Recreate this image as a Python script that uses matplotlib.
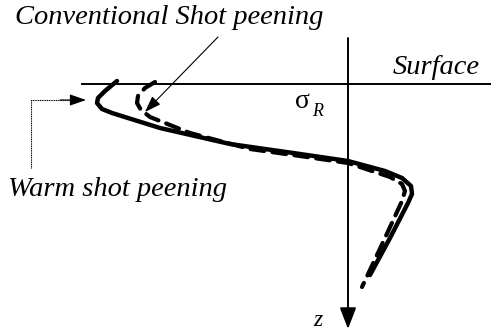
import matplotlib
matplotlib.use("Agg")
import matplotlib.pyplot as plt

# Schematic residual-stress profiles (in figure pixel coordinates)
warm_x = [117, 105, 98, 97, 102, 112, 160, 230, 300, 348, 385, 402, 411, 412, 408, 390, 370]
warm_z = [81, 91, 98, 103, 109, 113, 128, 144, 154, 161, 171, 178, 186, 194, 203, 238, 275]
conv_x = [155, 145, 138, 137, 141, 150, 190, 250, 300, 348, 390, 402, 405, 402, 385, 362]
conv_z = [82, 88, 96, 103, 110, 117, 133, 149, 156, 163, 177, 184, 191, 201, 238, 287]

label_conv = "Conventional Shot peening"
label_warm = "Warm shot peening"
label_surface = "Surface"

W, H = 491, 334
fig = plt.figure(figsize=(W / 100, H / 100), dpi=100)
ax = fig.add_axes([0, 0, 1, 1])
ax.set_xlim(0, W)
ax.set_ylim(H, 0)
ax.axis("off")

serif = ["Liberation Serif", "DejaVu Serif"]

# surface line
ax.plot([82, 491], [84, 84], color="black", lw=1.4)
# z axis with arrow
ax.annotate("", xy=(348, 329), xytext=(348, 38),
            arrowprops=dict(arrowstyle="-|>,head_length=1.3,head_width=0.5",
                            color="black", lw=1.4, shrinkA=0, shrinkB=0))

# curves
ax.plot(warm_x, warm_z, color="black", lw=3.2, solid_capstyle="round",
        solid_joinstyle="round")
ax.plot(conv_x, conv_z, color="black", lw=3.0, dashes=(3.3, 2.0),
        dash_capstyle="round")

# warm arrow (elbow)
ax.plot([31, 31, 70], [168, 100, 100], color="black", lw=0.8, ls=(0, (1, 0.6)))
ax.annotate("", xy=(86, 100), xytext=(60, 100),
            arrowprops=dict(arrowstyle="-|>,head_length=1.0,head_width=0.35",
                            color="black", lw=0.8, shrinkA=0, shrinkB=0))

# conventional arrow
ax.annotate("", xy=(145, 112), xytext=(218, 37),
            arrowprops=dict(arrowstyle="-|>,head_length=1.0,head_width=0.35",
                            color="black", lw=0.8, shrinkA=0, shrinkB=0))

# texts
ax.text(15, 18, label_conv, family=serif, style="italic", fontsize=20.5,
        ha="left", va="center")
ax.text(480, 68, label_surface, family=serif, style="italic", fontsize=20.5,
        ha="right", va="center")
ax.text(8, 190, label_warm, family=serif, style="italic", fontsize=20.5,
        ha="left", va="center")
ax.text(295, 102, "σ", family=serif, fontsize=20, ha="left", va="center")
ax.text(312, 111, "R", family=serif, style="italic", fontsize=13,
        ha="left", va="center")
ax.text(318, 321, "z", family=serif, style="italic", fontsize=17,
        ha="center", va="center")

fig.savefig("out.png", dpi=100)
